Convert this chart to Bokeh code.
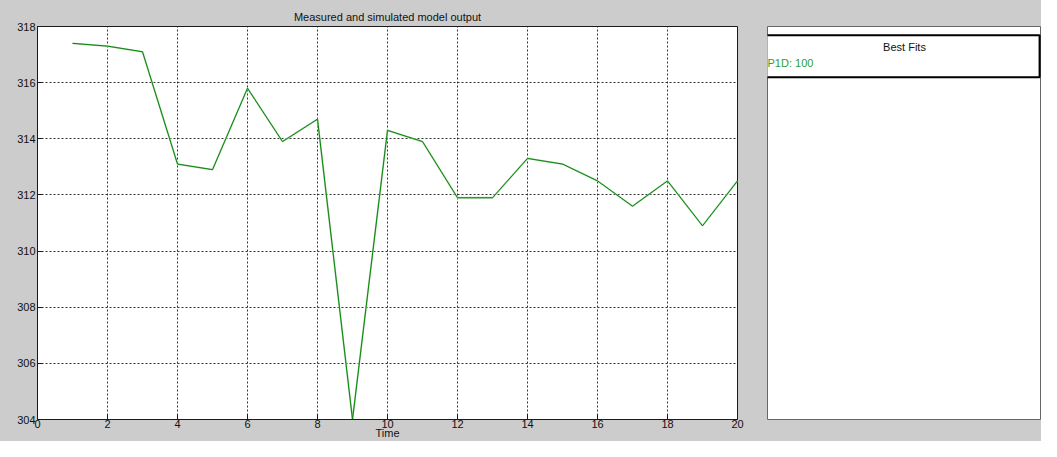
from bokeh.plotting import figure
from bokeh.layouts import row
from bokeh.models import FixedTicker, Range1d, BoxAnnotation, Label, Title
from bokeh.embed import file_html
from bokeh.resources import INLINE

# ---- data ----
time = [1, 2, 3, 4, 5, 6, 7, 8, 9, 10, 11, 12, 13, 14, 15, 16, 17, 18, 19, 20]
measured = [317.4, 317.3, 317.1, 313.1, 312.9, 315.8, 313.9, 314.7, 304.0, 314.3,
            313.9, 311.9, 311.9, 313.3, 313.1, 312.5, 311.6, 312.5, 310.9, 312.5]
simulated = [317.4, 317.3, 317.1, 313.1, 312.9, 315.8, 313.9, 314.7, 304.0, 314.3,
             313.9, 311.9, 311.9, 313.3, 313.1, 312.5, 311.6, 312.5, 310.9, 312.5]
x_ticks = [0, 2, 4, 6, 8, 10, 12, 14, 16, 18, 20]
y_ticks = [304, 306, 308, 310, 312, 314, 316, 318]
fit_name = "P1D"
fit_value = 100

FONT = "Liberation Sans"
BG = "#cccccc"
TOP = 26
BOTTOM = 20

p = figure(width=752, height=441, x_range=Range1d(0, 20), y_range=Range1d(304, 318),
           output_backend="svg", toolbar_location=None,
           background_fill_color="white", border_fill_color=BG,
           min_border_left=37, min_border_right=15, min_border_top=TOP,
           min_border_bottom=BOTTOM, outline_line_color="#1a1a1a")
p.title = Title(text="Measured and simulated model output", align="center",
                text_font=FONT, text_font_size="11px", text_font_style="normal",
                text_color="#111111", standoff=8)

p.line(time, measured, line_color="#a6d6a6", line_width=1.8)
p.line(time, simulated, line_color="#0c820c", line_width=1)

for ax in (p.xaxis[0], p.yaxis[0]):
    ax.major_tick_in = 5
    ax.major_tick_out = 0
    ax.minor_tick_line_color = None
    ax.axis_line_color = "#1a1a1a"
    ax.major_tick_line_color = "#1a1a1a"
    ax.major_label_text_font = FONT
    ax.major_label_text_font_size = "11px"
    ax.major_label_text_color = "#111111"
    ax.major_label_standoff = 2
p.xaxis.ticker = FixedTicker(ticks=x_ticks)
p.yaxis.ticker = FixedTicker(ticks=y_ticks)
p.xaxis.axis_label = "Time"
p.xaxis.axis_label_text_font = FONT
p.xaxis.axis_label_text_font_size = "11px"
p.xaxis.axis_label_text_font_style = "normal"
p.xaxis.axis_label_text_color = "#111111"
p.xaxis.axis_label_standoff = -4
p.xaxis.major_label_standoff = 0

p.grid.grid_line_color = "#333333"
p.grid.grid_line_dash = "2 2"
p.grid.grid_line_width = 1

# ---- right panel ----
q = figure(width=289, height=441, x_range=Range1d(0, 1), y_range=Range1d(0, 1),
           output_backend="svg", toolbar_location=None,
           background_fill_color="white", border_fill_color=BG,
           min_border_left=15, min_border_right=0, min_border_top=TOP,
           min_border_bottom=BOTTOM, outline_line_color="#666666",
           x_axis_location=None, y_axis_location=None)
q.grid.visible = False
q.add_layout(BoxAnnotation(left=-0.01, right=0.993, top=0.978, bottom=0.871,
                           fill_color="white", fill_alpha=1,
                           line_color="black", line_alpha=1, line_width=2))
q.add_layout(Label(x=0.5, y=0.948, text="Best Fits", text_align="center",
                   text_baseline="middle", text_font=FONT, text_font_size="11px",
                   text_color="#111111"))
q.add_layout(Label(x=0.0, y=0.908, text=f"{fit_name}: {fit_value}", text_align="left",
                   text_baseline="middle", text_font=FONT, text_font_size="11px",
                   text_color="#2e9e2e"))

layout = row(p, q, spacing=0, styles={"background-color": BG})
open("out.html", "w").write(file_html(layout, INLINE))
